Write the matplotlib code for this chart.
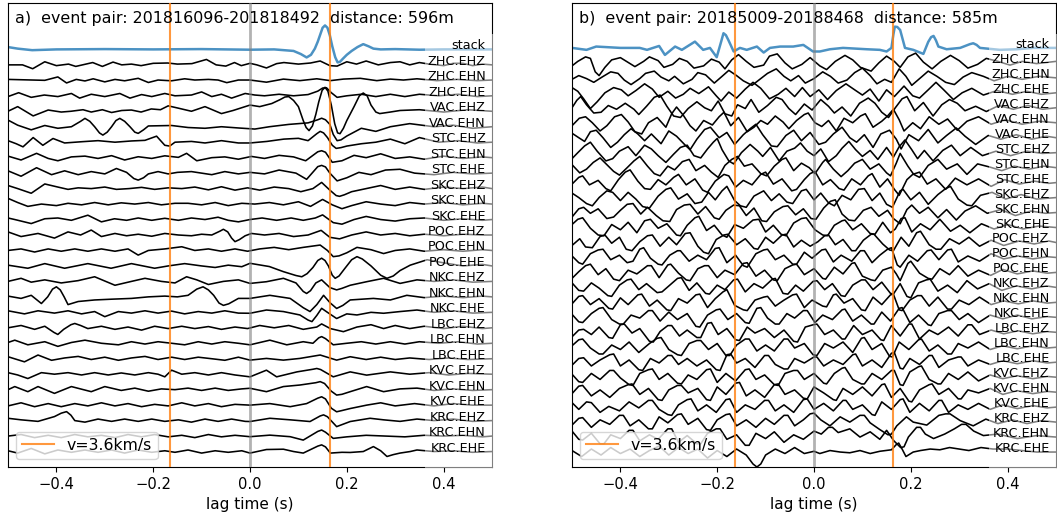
import numpy as np
import matplotlib.pyplot as plt
import matplotlib.transforms as mtransforms
from matplotlib.patches import Rectangle

plt.rcParams['font.size'] = 10.6

# station / component labels, top to bottom
labels_a = ['stack', 'ZHC.EHZ', 'ZHC.EHN', 'ZHC.EHE', 'VAC.EHZ', 'VAC.EHN',
            'STC.EHZ', 'STC.EHN', 'STC.EHE', 'SKC.EHZ', 'SKC.EHN', 'SKC.EHE',
            'POC.EHZ', 'POC.EHN', 'POC.EHE', 'NKC.EHZ', 'NKC.EHN', 'NKC.EHE',
            'LBC.EHZ', 'LBC.EHN', 'LBC.EHE', 'KVC.EHZ', 'KVC.EHN', 'KVC.EHE',
            'KRC.EHZ', 'KRC.EHN', 'KRC.EHE']
labels_b = ['stack', 'ZHC.EHZ', 'ZHC.EHN', 'ZHC.EHE', 'VAC.EHZ', 'VAC.EHN', 'VAC.EHE',
            'STC.EHZ', 'STC.EHN', 'STC.EHE', 'SKC.EHZ', 'SKC.EHN', 'SKC.EHE',
            'POC.EHZ', 'POC.EHN', 'POC.EHE', 'NKC.EHZ', 'NKC.EHN', 'NKC.EHE',
            'LBC.EHZ', 'LBC.EHN', 'LBC.EHE', 'KVC.EHZ', 'KVC.EHN', 'KVC.EHE',
            'KRC.EHZ', 'KRC.EHN', 'KRC.EHE']

title_a = 'a)  event pair: 201816096-201818492  distance: 596m'
title_b = 'b)  event pair: 20185009-20188468  distance: 585m'
dist_a = 596   # m
dist_b = 585   # m
vel = 3.6      # km/s

# traces: (lag time in ms, amplitude in 1/100 trace spacing)
traces_a = [
    [(-500,15),(-480,5),(-450,-5),(-400,0),(-300,2),(-200,0),(-100,2),(0,-2),(50,0),(90,-10),(105,-30),(117,-52),(126,-35),(134,5),(140,50),(145,95),(150,140),(155,155),(160,140),(165,90),(170,20),(176,-50),(181,-84),(186,-80),(192,-60),(200,-35),(210,-10),(222,15),(234,34),(245,20),(255,5),(270,0),(300,2),(350,-2),(400,0),(500,0)],
    [(-500,0),(-470,0),(-449,-25),(-424,20),(-400,-5),(-375,5),(-360,-10),(-325,15),(-305,-10),(-283,18),(-265,0),(-245,5),(-225,-5),(-200,10),(-170,12),(-150,5),(-120,8),(-90,35),(-70,0),(-50,-8),(-32,15),(-18,-5),(0,10),(14,0),(34,-20),(55,8),(70,15),(100,5),(125,12),(145,25),(165,-5),(180,-8),(200,20),(220,5),(240,25),(265,0),(290,15),(310,20),(330,0),(350,15),(370,5),(400,-5),(420,10),(440,10),(460,-5),(480,5),(500,0)],
    [(-500,6),(-424,0),(-397,22),(-379,-17),(-359,6),(-341,-4),(-324,10),(-300,-10),(-279,6),(-259,-3),(-231,13),(-210,-14),(-190,2),(-162,-3),(-135,10),(-114,2),(-86,6),(-66,2),(-48,-15),(-24,2),(0,2),(34,-12),(69,8),(103,-2),(138,10),(166,-2),(193,8),(228,13),(262,-2),(290,8),(317,2),(345,10),(386,-2),(428,6),(469,-2),(500,2)],
    [(-500,-5),(-478,20),(-452,-10),(-425,5),(-397,-5),(-369,15),(-352,-15),(-328,10),(-300,-5),(-269,15),(-248,-15),(-224,8),(-203,-5),(-176,15),(-155,0),(-121,5),(-100,25),(-79,-5),(-59,10),(-38,-15),(-10,15),(10,5),(30,0),(60,10),(90,0),(120,8),(140,30),(150,50),(158,52),(168,20),(180,-10),(200,0),(230,10),(260,-5),(290,10),(320,-5),(350,10),(390,0),(430,10),(470,-5),(500,0)],
    [(-500,0),(-480,30),(-448,-30),(-417,8),(-390,-5),(-370,0),(-345,10),(-328,-5),(-305,10),(-286,-8),(-265,5),(-245,8),(-225,-5),(-204,15),(-185,10),(-169,35),(-148,20),(-121,0),(-93,30),(-59,-15),(-35,5),(-15,25),(0,40),(20,30),(45,50),(62,75),(72,92),(80,95),(90,70),(100,30),(110,-60),(116,-105),(122,-125),(129,-95),(136,-20),(142,60),(149,135),(155,155),(161,130),(168,40),(175,-80),(181,-140),(186,-145),(193,-110),(200,-60),(215,30),(226,100),(234,118),(242,100),(250,40),(260,-5),(268,-15),(290,-5),(310,5),(350,10),(400,-5),(450,10),(500,0)],
    [(-500,43),(-480,10),(-452,-20),(-424,8),(-397,-10),(-369,0),(-350,35),(-341,54),(-331,35),(-321,0),(-311,-40),(-304,-54),(-295,-35),(-286,0),(-277,40),(-269,54),(-259,35),(-248,0),(-238,-35),(-231,-43),(-220,-20),(-210,5),(-162,8),(-128,-5),(-93,-10),(-59,0),(-24,-8),(10,-15),(40,0),(80,15),(120,25),(140,45),(148,55),(156,45),(165,15),(172,-50),(180,-90),(188,-85),(200,-60),(230,-10),(260,-30),(290,0),(330,20),(380,0),(420,10),(460,-10),(500,0)],
    [(-500,10),(-483,-10),(-469,-30),(-448,30),(-428,-20),(-407,24),(-383,-5),(-348,3),(-314,10),(-279,0),(-245,8),(-217,12),(-193,39),(-176,-20),(-166,-25),(-155,0),(-121,5),(-93,-5),(-59,10),(-24,-5),(0,-5),(35,5),(70,20),(100,25),(120,10),(138,55),(145,70),(152,60),(160,30),(170,-20),(178,-40),(188,-35),(200,-25),(230,-10),(260,0),(290,20),(320,-10),(350,30),(390,0),(430,10),(470,-5),(500,0)],
    [(-500,10),(-473,-15),(-441,28),(-417,-5),(-397,-20),(-369,5),(-341,10),(-314,-5),(-286,13),(-259,-15),(-231,6),(-203,-5),(-176,12),(-148,2),(-131,28),(-110,-20),(-79,0),(-52,5),(-24,-10),(3,8),(30,-5),(60,15),(90,5),(115,-20),(140,38),(148,45),(156,35),(170,-30),(190,-20),(215,15),(240,0),(270,25),(300,-5),(330,5),(360,-10),(400,10),(440,-5),(480,5),(500,0)],
    [(-500,15),(-473,-20),(-441,35),(-410,-10),(-383,15),(-355,-10),(-328,10),(-300,-5),(-276,30),(-255,5),(-240,-35),(-231,-45),(-220,-30),(-210,-5),(-190,10),(-169,-5),(-150,5),(-121,10),(-100,0),(-79,-10),(-52,10),(-24,-5),(0,5),(30,-5),(60,20),(95,0),(117,-40),(140,42),(148,50),(156,40),(165,0),(180,-50),(200,-30),(225,5),(250,-10),(280,20),(310,25),(340,0),(380,-10),(420,5),(460,-5),(500,0)],
    [(-500,20),(-480,0),(-452,-30),(-424,30),(-397,10),(-376,-5),(-355,5),(-328,0),(-300,10),(-276,-5),(-250,0),(-224,8),(-197,-5),(-169,5),(-141,0),(-114,10),(-86,-8),(-59,12),(-31,-10),(-5,5),(20,-10),(50,10),(80,0),(105,-20),(130,0),(148,40),(165,-10),(178,-45),(185,-50),(195,-40),(210,-20),(240,0),(270,20),(300,-5),(330,10),(360,-5),(400,10),(440,0),(480,10),(500,0)],
    [(-500,37),(-480,10),(-459,-15),(-431,0),(-400,-10),(-376,5),(-348,-5),(-321,10),(-293,-5),(-266,8),(-238,0),(-210,10),(-183,-5),(-155,5),(-128,5),(-100,-5),(-72,10),(-45,-10),(-17,5),(10,0),(40,10),(69,-5),(100,15),(125,-15),(150,30),(170,-5),(190,-30),(210,-10),(240,15),(270,0),(300,-10),(330,10),(360,0),(400,10),(440,-5),(480,5),(500,0)],
    [(-500,10),(-486,0),(-452,-26),(-424,5),(-397,10),(-369,-5),(-335,28),(-307,-15),(-280,5),(-255,-5),(-231,10),(-203,-5),(-176,8),(-148,-5),(-121,10),(-93,0),(-66,15),(-45,-5),(-24,-15),(0,0),(25,10),(55,-5),(85,10),(110,-5),(135,10),(150,30),(172,-20),(190,-30),(215,0),(240,20),(270,0),(300,-10),(330,5),(360,10),(400,-5),(440,5),(480,-5),(500,0)],
    [(-500,20),(-473,-10),(-438,10),(-404,-20),(-376,20),(-350,0),(-328,32),(-307,-10),(-279,10),(-255,-5),(-231,5),(-203,-8),(-176,10),(-148,0),(-121,-5),(-100,5),(-79,0),(-62,25),(-55,37),(-46,20),(-38,-20),(-31,-43),(-22,-30),(-10,-5),(3,10),(30,0),(60,10),(90,-10),(120,0),(147,30),(165,-15),(185,-25),(210,0),(240,20),(270,0),(300,10),(330,-5),(360,5),(400,-5),(440,5),(480,0),(500,0)],
    [(-500,0),(-473,10),(-445,-10),(-417,10),(-390,-5),(-362,10),(-335,-5),(-307,10),(-279,-5),(-252,10),(-231,-30),(-210,0),(-176,10),(-141,24),(-114,0),(-86,10),(-59,-5),(-31,10),(-5,-5),(20,10),(50,20),(80,5),(110,20),(145,35),(160,0),(172,-40),(184,-35),(200,-15),(221,20),(250,5),(276,-20),(300,0),(330,10),(360,-5),(400,5),(440,-5),(480,5),(500,0)],
    [(-500,5),(-459,-15),(-424,15),(-383,-15),(-335,15),(-287,-15),(-245,15),(-197,-15),(-169,0),(-135,15),(-100,0),(-72,-10),(-45,5),(-17,-5),(0,17),(40,-4),(69,-37),(95,-62),(107,-70),(118,-50),(130,-10),(140,35),(148,50),(155,35),(162,0),(170,-60),(176,-80),(184,-65),(195,-20),(210,40),(221,60),(232,45),(250,0),(270,-60),(283,-80),(296,-65),(310,-30),(331,5),(366,40),(400,20),(440,0),(480,10),(500,0)],
    [(-500,0),(-473,20),(-452,-5),(-424,10),(-390,-10),(-355,5),(-321,30),(-279,-25),(-245,0),(-217,20),(-183,0),(-155,-10),(-131,30),(-110,10),(-86,-20),(-55,0),(-24,10),(0,-13),(34,-2),(69,20),(95,-10),(110,-65),(117,-78),(125,-60),(136,-10),(148,10),(165,-40),(179,-55),(190,-45),(207,-25),(241,-2),(276,20),(310,-13),(345,10),(380,0),(420,10),(460,-5),(500,0)],
    [(-500,5),(-473,-10),(-452,10),(-431,-43),(-418,0),(-408,50),(-400,65),(-392,45),(-384,0),(-376,-50),(-355,-30),(-321,-20),(-286,-15),(-245,-10),(-210,0),(-176,5),(-150,0),(-128,10),(-110,50),(-97,65),(-86,45),(-75,10),(-64,-40),(-55,-55),(-44,-45),(-24,-10),(0,-10),(41,10),(83,-10),(110,-70),(124,-95),(138,-50),(152,10),(166,-40),(179,-75),(192,-55),(207,-20),(255,-10),(290,-20),(324,10),(360,-5),(400,5),(440,-5),(480,5),(500,0)],
    [(-500,10),(-466,-10),(-438,10),(-404,-5),(-376,10),(-348,-10),(-321,5),(-300,-28),(-272,5),(-245,-5),(-217,10),(-190,-5),(-162,8),(-135,-10),(-107,5),(-79,-5),(-52,10),(-24,-5),(0,-6),(34,15),(69,5),(103,-17),(120,-50),(128,-60),(138,-20),(148,26),(160,0),(179,-40),(200,-10),(221,-17),(250,0),(276,-6),(310,5),(345,15),(380,0),(420,10),(460,-5),(500,0)],
    [(-500,0),(-473,15),(-445,-10),(-424,10),(-405,-30),(-397,-43),(-385,-10),(-370,20),(-362,28),(-350,15),(-335,-5),(-307,10),(-279,-10),(-252,5),(-224,-15),(-197,10),(-169,-5),(-141,10),(-114,-5),(-86,8),(-59,-10),(-31,5),(-5,-5),(20,15),(50,0),(80,15),(110,-10),(138,5),(148,25),(166,-5),(193,-25),(221,5),(250,20),(276,-5),(300,15),(330,-5),(360,10),(400,-5),(440,10),(480,-5),(500,0)],
    [(-500,5),(-486,20),(-459,-10),(-424,10),(-397,-20),(-369,5),(-341,20),(-307,0),(-272,-10),(-245,10),(-217,-5),(-190,10),(-162,0),(-135,-10),(-107,10),(-79,-5),(-52,10),(-24,0),(0,-10),(41,20),(76,-10),(110,10),(130,0),(142,35),(148,43),(156,30),(172,-10),(200,0),(230,10),(260,-5),(290,10),(320,-5),(350,10),(390,0),(430,10),(470,-5),(500,0)],
    [(-500,13),(-466,-20),(-438,24),(-410,-10),(-383,5),(-355,15),(-328,-5),(-300,10),(-272,-10),(-245,5),(-217,15),(-190,-5),(-162,10),(-135,-5),(-107,10),(-79,0),(-52,-10),(-24,10),(0,-9),(34,2),(69,-9),(103,2),(145,24),(179,-9),(207,13),(240,-5),(270,10),(300,-5),(330,5),(370,-5),(410,5),(450,-5),(500,0)],
    [(-500,10),(-480,-5),(-459,-28),(-431,10),(-404,0),(-376,10),(-348,-5),(-321,10),(-293,-5),(-266,8),(-238,-5),(-210,10),(-190,0),(-176,-17),(-162,26),(-141,0),(-114,10),(-86,-5),(-59,10),(-31,-5),(0,-17),(34,26),(55,-17),(97,15),(130,32),(138,37),(146,30),(172,-17),(207,15),(241,-6),(290,15),(330,0),(370,10),(410,-5),(450,5),(500,0)],
    [(-500,0),(-486,20),(-459,-13),(-438,20),(-404,-24),(-369,20),(-328,-13),(-300,20),(-266,-5),(-238,10),(-210,-10),(-183,5),(-155,0),(-128,10),(-100,-5),(-72,10),(-45,-5),(-17,5),(0,9),(34,-13),(69,20),(103,30),(136,45),(145,52),(154,40),(168,-10),(179,-35),(190,-30),(207,-13),(241,20),(276,-13),(310,5),(345,10),(380,-5),(420,5),(460,-5),(500,0)],
    [(-500,-5),(-473,15),(-445,-10),(-417,10),(-390,-10),(-362,10),(-335,-5),(-307,15),(-279,-5),(-252,10),(-224,-10),(-197,5),(-169,-5),(-141,15),(-114,-5),(-86,10),(-59,-10),(-31,5),(0,0),(41,10),(83,-10),(117,10),(140,45),(148,54),(156,40),(168,-20),(179,-43),(190,-35),(207,-22),(241,0),(270,15),(300,-5),(340,10),(380,-5),(420,10),(460,0),(500,0)],
    [(-500,15),(-473,5),(-438,-5),(-404,26),(-390,48),(-379,58),(-370,35),(-362,0),(-341,-10),(-314,10),(-286,-5),(-259,10),(-231,-5),(-203,10),(-176,-5),(-148,5),(-121,-10),(-93,10),(-66,-5),(-38,10),(-10,-5),(0,-6),(41,15),(83,5),(124,-6),(145,30),(152,37),(160,25),(179,-39),(207,-6),(248,15),(276,5),(310,-5),(345,10),(380,0),(420,10),(460,-5),(500,0)],
    [(-500,0),(-473,10),(-445,-10),(-417,5),(-390,-10),(-362,10),(-335,-5),(-307,5),(-279,-10),(-252,10),(-224,-5),(-197,10),(-169,-5),(-141,5),(-114,-10),(-86,10),(-59,-5),(-31,5),(0,-4),(41,6),(83,-4),(110,-26),(140,30),(148,39),(156,25),(172,-15),(200,-5),(240,5),(280,0),(320,-5),(360,5),(400,0),(440,5),(480,-5),(500,0)],
    [(-500,5),(-480,-10),(-452,20),(-424,-15),(-397,10),(-369,-5),(-341,10),(-314,-5),(-286,10),(-259,-10),(-231,10),(-203,-5),(-176,5),(-155,-5),(-128,10),(-100,-10),(-72,5),(-45,-5),(-17,5),(0,-10),(34,13),(69,15),(90,0),(110,-10),(140,35),(148,43),(156,30),(166,-10),(190,-5),(207,-6),(234,0),(255,32),(270,5),(283,-32),(296,-20),(310,-10),(331,0),(345,10),(380,0),(420,5),(460,-5),(500,0)],
]

traces_b = [
    [(-500,0),(-470,-13),(-450,9),(-400,0),(-360,0),(-345,-13),(-320,13),(-308,-47),(-287,9),(-273,-13),(-246,42),(-229,-13),(-215,0),(-201,-62),(-192,40),(-187,98),(-182,85),(-177,53),(-166,-24),(-153,0),(-139,-13),(-118,9),(-104,-31),(-91,0),(-70,9),(-43,9),(-22,20),(-2,-24),(12,-24),(33,-9),(60,0),(109,-9),(136,-13),(150,-24),(160,0),(164,90),(167,142),(172,140),(178,120),(183,60),(188,0),(205,-13),(226,-40),(236,40),(242,72),(247,80),(252,50),(257,9),(274,-9),(302,0),(322,25),(329,31),(336,20),(343,0),(384,-13),(419,-9),(453,0),(500,0)],
    [(-500,-20),(-488,10),(-472,40),(-462,30),(-452,-60),(-444,-85),(-432,-30),(-418,20),(-400,35),(-385,5),(-370,-25),(-352,10),(-340,40),(-322,15),(-310,-30),(-292,-10),(-278,30),(-262,10),(-248,-35),(-228,-20),(-212,25),(-196,5),(-184,-40),(-170,20),(-156,55),(-140,10),(-124,-30),(-104,-15),(-92,45),(-76,60),(-60,0),(-45,-40),(-25,-10),(-8,35),(12,-20),(26,-45),(44,10),(64,50),(80,20),(96,-30),(118,-55),(134,0),(150,45),(166,10),(178,-30),(194,40),(210,65),(226,5),(244,-40),(262,10),(282,50),(300,15),(318,-35),(338,-10),(356,30),(380,10),(405,-15),(430,10),(460,-5),(500,10)],
    [(-500,-10),(-486,15),(-470,-5),(-455,-30),(-438,5),(-420,40),(-405,30),(-392,-15),(-378,-45),(-360,-5),(-348,30),(-330,45),(-316,5),(-300,-20),(-288,10),(-270,-40),(-252,-10),(-240,35),(-224,20),(-206,-35),(-190,10),(-176,50),(-160,15),(-146,-20),(-128,-50),(-112,-10),(-96,30),(-78,60),(-62,10),(-48,-20),(-32,15),(-18,-35),(0,-5),(18,40),(34,10),(50,-35),(68,-15),(84,35),(100,65),(116,15),(130,-40),(146,-10),(160,-30),(176,60),(190,10),(202,-50),(220,0),(236,45),(254,10),(272,-30),(290,-45),(308,5),(326,35),(350,10),(372,-20),(400,10),(430,-10),(465,10),(500,0)],
    [(-500,35),(-488,10),(-476,-40),(-462,-105),(-448,-60),(-432,0),(-414,35),(-398,20),(-384,-20),(-368,15),(-350,60),(-334,25),(-320,-30),(-302,10),(-286,-35),(-270,-10),(-256,30),(-238,-5),(-218,40),(-202,-20),(-192,-55),(-176,5),(-160,-35),(-142,25),(-126,70),(-110,30),(-92,-40),(-74,-10),(-58,30),(-40,-25),(-24,35),(-8,-25),(10,20),(28,-45),(46,15),(66,60),(84,20),(100,-15),(116,25),(134,-55),(150,20),(166,-25),(186,45),(204,-20),(218,-35),(236,20),(252,70),(268,20),(288,-45),(306,0),(326,30),(350,-15),(378,15),(410,-10),(440,10),(470,-10),(500,0)],
    [(-500,0),(-490,50),(-482,75),(-470,20),(-455,-35),(-440,-30),(-425,15),(-408,-10),(-390,30),(-372,-10),(-362,-45),(-346,10),(-330,70),(-318,85),(-304,10),(-290,-55),(-276,-65),(-260,-5),(-242,40),(-226,0),(-212,-20),(-198,45),(-184,-40),(-170,-55),(-158,20),(-142,-5),(-130,55),(-114,-30),(-96,15),(-78,70),(-66,55),(-52,-5),(-38,-45),(-20,25),(-4,-15),(14,55),(30,10),(42,-35),(58,5),(76,-55),(94,30),(112,65),(126,30),(140,-30),(154,-65),(168,0),(182,60),(192,75),(208,-20),(226,35),(246,-55),(264,20),(280,55),(296,30),(312,-20),(334,10),(356,-25),(382,15),(412,-10),(442,15),(472,-10),(500,0)],
    [(-500,-20),(-485,30),(-472,40),(-458,0),(-442,-55),(-428,-20),(-412,40),(-398,55),(-384,5),(-370,-60),(-356,-75),(-342,0),(-324,35),(-306,-30),(-294,60),(-284,105),(-270,50),(-256,-20),(-244,-55),(-228,15),(-210,-15),(-196,40),(-186,70),(-172,-20),(-156,35),(-138,-60),(-124,-30),(-110,15),(-96,-10),(-80,45),(-64,5),(-52,-40),(-36,15),(-20,55),(-12,65),(2,0),(16,-25),(30,15),(46,-55),(62,30),(80,0),(96,45),(106,60),(122,-30),(140,10),(152,45),(164,90),(176,20),(186,-55),(204,0),(220,-40),(238,40),(258,-10),(276,25),(296,-50),(316,10),(340,40),(366,-10),(395,20),(430,-10),(465,10),(500,0)],
    [(-500,30),(-486,0),(-474,-25),(-462,40),(-450,50),(-436,0),(-420,-65),(-406,-30),(-392,20),(-378,60),(-364,25),(-350,-20),(-336,25),(-316,-40),(-300,45),(-284,10),(-266,-50),(-256,-80),(-242,-10),(-226,55),(-214,70),(-196,0),(-180,35),(-164,-45),(-146,20),(-132,60),(-120,90),(-106,20),(-88,-55),(-76,-60),(-58,15),(-42,50),(-26,-20),(-8,35),(10,-45),(24,-30),(40,25),(58,70),(74,0),(88,-30),(104,20),(122,-65),(138,25),(156,50),(170,-10),(180,-75),(196,20),(216,-20),(236,55),(256,-35),(274,15),(294,65),(312,10),(334,-45),(360,15),(386,-10),(418,20),(450,-10),(480,10),(500,0)],
    [(-500,-40),(-488,0),(-474,45),(-462,70),(-448,10),(-430,-55),(-416,-40),(-402,10),(-384,40),(-368,-20),(-350,50),(-336,25),(-322,-20),(-306,-65),(-290,-10),(-276,35),(-262,50),(-248,-20),(-234,-35),(-220,25),(-208,70),(-200,95),(-190,20),(-176,-55),(-166,-75),(-150,0),(-132,55),(-116,10),(-106,-25),(-90,35),(-72,-55),(-56,10),(-40,30),(-28,65),(-14,10),(0,-20),(14,25),(30,-60),(46,-20),(58,30),(72,75),(86,20),(100,-25),(116,15),(132,-45),(150,35),(164,-30),(176,40),(188,85),(202,20),(214,-40),(228,15),(246,-55),(266,15),(284,50),(302,-20),(324,35),(348,-20),(376,10),(406,-20),(440,10),(472,-5),(500,0)],
    [(-500,20),(-484,-35),(-470,-10),(-456,35),(-442,65),(-428,20),(-414,-25),(-402,-50),(-386,0),(-372,45),(-360,75),(-344,10),(-330,-40),(-318,-55),(-302,10),(-288,-15),(-272,40),(-258,55),(-244,-20),(-226,15),(-212,-30),(-198,-65),(-184,15),(-170,55),(-158,75),(-144,10),(-128,25),(-110,-40),(-98,-55),(-82,10),(-66,55),(-58,65),(-42,-20),(-26,30),(-10,0),(2,-40),(18,35),(24,55),(40,-10),(56,-60),(70,-20),(84,30),(100,55),(116,-10),(134,25),(150,-35),(158,-55),(170,30),(178,95),(194,10),(206,-45),(218,-65),(236,15),(256,55),(274,-10),(296,25),(316,-45),(338,25),(362,5),(388,-20),(414,10),(445,-10),(475,10),(500,0)],
    [(-500,-10),(-486,35),(-478,45),(-464,-15),(-446,15),(-430,-40),(-420,-55),(-404,20),(-390,70),(-380,85),(-364,10),(-350,-40),(-338,-45),(-322,20),(-306,-15),(-290,35),(-280,55),(-264,-15),(-246,25),(-230,-50),(-220,-65),(-204,10),(-186,55),(-176,45),(-162,-30),(-146,15),(-128,-15),(-110,55),(-100,70),(-84,-10),(-66,25),(-46,-55),(-36,-45),(-20,20),(-8,60),(2,75),(18,-15),(34,20),(52,-40),(62,-50),(78,25),(96,-15),(112,45),(120,60),(136,-30),(152,25),(166,-45),(176,-85),(192,20),(204,55),(218,70),(234,-10),(252,25),(272,-45),(292,30),(316,-15),(340,25),(366,-25),(394,20),(424,-10),(455,10),(485,-5),(500,0)],
    [(-500,30),(-486,0),(-470,-40),(-458,-55),(-444,0),(-428,45),(-416,35),(-400,-20),(-384,35),(-368,-10),(-354,-60),(-340,-70),(-322,10),(-306,55),(-296,65),(-280,-10),(-262,25),(-246,-40),(-232,-30),(-218,35),(-204,-15),(-190,45),(-180,75),(-164,-20),(-152,-55),(-140,-65),(-124,10),(-104,45),(-88,-20),(-72,25),(-56,-30),(-44,-40),(-26,45),(-16,55),(0,-15),(14,30),(30,-35),(42,-55),(58,15),(76,-15),(92,55),(104,60),(120,-20),(136,30),(150,-45),(162,-65),(178,45),(184,55),(200,-15),(218,35),(236,-45),(256,20),(272,60),(282,75),(298,-10),(316,-50),(326,-55),(344,15),(368,35),(396,-10),(428,20),(460,-10),(500,0)],
    [(-500,-30),(-486,25),(-476,35),(-462,-5),(-446,25),(-428,-40),(-414,-30),(-400,15),(-386,55),(-374,60),(-358,-10),(-344,35),(-326,-20),(-312,-55),(-298,-60),(-284,20),(-268,50),(-256,55),(-240,-10),(-224,40),(-206,-35),(-196,-45),(-182,15),(-166,50),(-154,45),(-140,-20),(-124,30),(-108,-55),(-98,-60),(-82,5),(-64,40),(-54,45),(-38,-15),(-22,25),(-6,-40),(4,-45),(20,30),(34,75),(44,85),(58,-10),(72,-50),(84,-55),(102,15),(118,35),(134,-25),(152,15),(164,-40),(178,-75),(192,20),(202,50),(218,-5),(236,35),(256,-35),(274,20),(294,-50),(312,10),(334,45),(358,-5),(386,20),(416,-20),(448,10),(478,-5),(500,0)],
    [(-500,20),(-488,55),(-478,65),(-462,-5),(-446,-50),(-434,-55),(-418,20),(-400,-15),(-384,35),(-366,-35),(-350,45),(-338,55),(-322,-5),(-304,25),(-284,-50),(-276,-55),(-262,15),(-246,65),(-238,75),(-222,-20),(-206,15),(-190,-50),(-180,-65),(-164,20),(-146,-5),(-126,50),(-114,55),(-100,-30),(-84,15),(-68,-45),(-58,-55),(-42,30),(-26,60),(-16,65),(2,-15),(18,-50),(28,-55),(42,15),(58,45),(64,50),(80,-15),(98,25),(116,-40),(126,-45),(142,35),(158,-35),(168,-10),(180,60),(188,65),(202,-30),(220,25),(240,-15),(260,55),(282,-25),(302,15),(322,-35),(346,25),(372,-10),(400,20),(432,-10),(465,10),(500,0)],
    [(-500,-20),(-484,25),(-472,-30),(-458,-35),(-442,40),(-432,50),(-418,-5),(-402,35),(-388,-45),(-376,-55),(-360,5),(-344,45),(-334,50),(-318,-25),(-300,35),(-284,-15),(-266,60),(-256,65),(-240,-25),(-228,-65),(-218,-75),(-202,20),(-186,50),(-178,55),(-160,-15),(-142,25),(-124,-40),(-116,-45),(-100,35),(-84,-5),(-66,50),(-58,55),(-42,-30),(-26,15),(-8,-25),(8,5),(22,45),(30,50),(44,-15),(60,20),(78,-55),(86,-55),(102,15),(118,55),(124,55),(142,-10),(156,-50),(164,-55),(180,35),(196,-25),(212,65),(220,75),(238,-15),(252,-45),(262,-45),(280,25),(300,-10),(320,35),(342,-25),(366,15),(392,-20),(424,10),(455,-10),(485,10),(500,0)],
    [(-500,10),(-486,-35),(-478,-45),(-462,25),(-446,50),(-436,55),(-420,-15),(-402,15),(-386,-35),(-374,-25),(-360,55),(-352,65),(-338,-5),(-322,-45),(-314,-50),(-298,15),(-282,45),(-276,45),(-258,-25),(-240,15),(-222,-15),(-204,60),(-196,65),(-180,-35),(-162,15),(-146,-55),(-138,-65),(-120,25),(-104,50),(-96,55),(-80,-15),(-62,15),(-44,-45),(-36,-45),(-20,35),(-4,-5),(16,50),(24,55),(40,-30),(56,15),(78,-25),(96,45),(104,45),(120,-35),(136,15),(152,55),(160,65),(172,-50),(178,-65),(196,15),(214,-25),(234,45),(242,50),(258,-15),(276,50),(284,55),(298,-30),(318,10),(342,-25),(366,25),(392,-10),(422,10),(452,-10),(482,5),(500,0)],
    [(-500,-40),(-486,5),(-472,45),(-462,55),(-446,-15),(-430,25),(-414,-45),(-402,-55),(-384,15),(-366,-10),(-344,45),(-336,45),(-320,-35),(-302,50),(-296,55),(-280,-5),(-264,-50),(-256,-55),(-240,25),(-226,45),(-218,45),(-200,-35),(-184,15),(-164,-15),(-146,60),(-138,65),(-120,-25),(-102,15),(-84,-50),(-76,-55),(-60,25),(-44,50),(-36,55),(-20,-15),(0,25),(18,-40),(24,-45),(42,35),(60,-10),(78,60),(84,65),(100,-25),(118,-50),(126,-55),(142,15),(160,35),(170,-10),(178,-55),(194,60),(200,75),(218,-5),(236,-40),(244,-45),(260,25),(280,-15),(298,45),(318,-25),(340,15),(365,-20),(390,20),(420,-10),(452,10),(482,-5),(500,0)],
    [(-500,30),(-486,-20),(-476,-25),(-460,30),(-444,-5),(-426,-55),(-418,-60),(-402,15),(-386,50),(-378,55),(-362,-15),(-346,25),(-324,-35),(-314,-30),(-298,15),(-282,60),(-274,65),(-258,-20),(-242,30),(-224,-40),(-216,-45),(-200,15),(-184,-15),(-166,50),(-158,55),(-142,-30),(-124,25),(-106,-5),(-86,55),(-80,60),(-64,-40),(-54,-45),(-38,15),(-22,-25),(-2,40),(6,45),(22,-15),(38,25),(56,-55),(64,-60),(80,15),(98,50),(106,50),(122,-15),(140,35),(158,-40),(164,-45),(178,25),(192,-60),(200,-70),(216,30),(232,50),(240,55),(256,-25),(276,15),(296,-35),(316,45),(338,-10),(362,25),(388,-20),(418,10),(450,-10),(480,10),(500,0)],
    [(-500,-10),(-486,40),(-478,45),(-462,-15),(-444,25),(-424,-40),(-416,-45),(-400,30),(-384,-15),(-364,50),(-356,55),(-340,-25),(-324,15),(-304,-50),(-296,-55),(-280,25),(-262,-5),(-244,50),(-236,55),(-220,-35),(-204,25),(-188,70),(-180,85),(-164,-20),(-146,-50),(-138,-55),(-122,15),(-104,35),(-96,40),(-80,-25),(-62,15),(-44,50),(-36,55),(-20,-35),(-4,15),(18,-25),(26,-30),(40,50),(46,55),(62,-5),(80,25),(98,-50),(106,-55),(122,35),(140,-15),(158,50),(164,55),(176,-50),(182,-55),(198,15),(214,45),(222,45),(238,-25),(256,35),(276,-45),(284,-45),(300,15),(320,-15),(342,35),(366,-15),(392,10),(422,-10),(452,10),(482,-5),(500,0)],
    [(-500,20),(-486,-30),(-478,-35),(-460,25),(-444,60),(-436,65),(-418,-15),(-402,-45),(-394,-45),(-378,15),(-360,-5),(-342,45),(-334,45),(-318,-25),(-300,35),(-282,-15),(-262,25),(-244,-60),(-236,-65),(-220,15),(-202,50),(-194,55),(-178,-15),(-160,25),(-142,-35),(-134,-40),(-118,60),(-110,65),(-96,-5),(-80,-45),(-72,-45),(-56,25),(-40,-5),(-22,45),(-14,45),(2,-35),(18,15),(38,-15),(58,50),(64,55),(80,-25),(98,15),(118,-45),(124,-45),(140,35),(158,-25),(176,60),(182,65),(198,-35),(216,15),(236,-50),(242,-55),(258,25),(276,45),(284,45),(300,-15),(318,25),(340,-35),(364,15),(390,-10),(420,15),(450,-10),(482,5),(500,0)],
    [(-500,-30),(-486,15),(-476,20),(-460,-15),(-444,35),(-424,-35),(-416,-40),(-400,50),(-392,55),(-376,-5),(-360,25),(-340,-60),(-332,-65),(-318,5),(-302,45),(-294,45),(-278,-25),(-262,15),(-242,-35),(-234,-35),(-220,60),(-212,65),(-198,-15),(-180,25),(-162,-50),(-154,-55),(-138,35),(-122,-5),(-102,25),(-82,-35),(-62,15),(-42,-60),(-34,-65),(-18,35),(-2,50),(6,55),(22,-15),(40,15),(58,-45),(64,-45),(82,45),(100,-15),(120,15),(138,-50),(144,-55),(160,45),(178,-25),(196,55),(202,55),(218,-45),(238,15),(256,-15),(278,35),(298,-25),(318,50),(326,50),(342,-15),(366,15),(392,-10),(422,10),(452,-10),(482,5),(500,0)],
    [(-500,10),(-486,50),(-478,55),(-462,-5),(-444,-45),(-436,-45),(-418,15),(-400,-15),(-382,35),(-362,-35),(-340,25),(-324,60),(-316,65),(-300,-15),(-282,-50),(-274,-55),(-258,25),(-242,45),(-234,45),(-218,-15),(-200,25),(-182,-55),(-174,-55),(-160,15),(-142,55),(-134,55),(-118,-25),(-100,15),(-82,-25),(-62,55),(-54,55),(-40,-5),(-20,25),(-2,-50),(6,-55),(22,25),(40,-5),(60,35),(80,-35),(98,60),(104,65),(120,-15),(140,25),(156,-60),(162,-65),(176,35),(196,-15),(216,50),(222,55),(238,-25),(256,15),(276,-45),(284,-45),(298,25),(318,-5),(340,35),(364,-15),(390,10),(420,-10),(452,10),(482,-5),(500,0)],
    [(-500,-20),(-486,25),(-476,30),(-460,-25),(-442,15),(-422,50),(-414,55),(-400,-25),(-382,15),(-362,-50),(-354,-55),(-338,25),(-320,-5),(-302,45),(-294,45),(-280,-15),(-262,25),(-242,-25),(-222,15),(-202,-50),(-194,-55),(-180,50),(-172,55),(-160,-5),(-142,25),(-122,-35),(-102,45),(-94,45),(-80,-15),(-62,-45),(-54,-45),(-40,25),(-20,-5),(0,35),(6,35),(20,-25),(40,15),(60,-15),(80,50),(86,55),(100,-25),(120,15),(140,-35),(160,60),(166,65),(178,-40),(184,-45),(198,25),(218,-15),(238,45),(244,45),(258,-35),(278,15),(298,35),(304,35),(318,-25),(340,15),(364,-15),(390,10),(420,-10),(452,10),(482,-5),(500,0)],
    [(-500,20),(-486,-30),(-478,-35),(-460,25),(-442,-15),(-422,45),(-414,45),(-400,-5),(-382,-50),(-374,-55),(-360,25),(-342,50),(-334,55),(-320,-15),(-302,25),(-282,-40),(-274,-45),(-260,15),(-242,-15),(-222,50),(-214,55),(-200,-35),(-182,25),(-162,-25),(-142,50),(-134,55),(-120,-15),(-102,15),(-82,-50),(-74,-55),(-60,25),(-42,45),(-34,45),(-20,-15),(0,25),(20,-40),(26,-45),(42,25),(58,60),(64,65),(80,-15),(98,-45),(104,-45),(120,25),(140,-15),(160,45),(166,45),(178,-50),(184,-55),(198,35),(216,70),(222,75),(238,-15),(256,-45),(262,-45),(278,25),(298,-15),(318,35),(340,-25),(364,15),(390,-10),(420,10),(452,-10),(482,5),(500,0)],
    [(-500,-10),(-486,40),(-478,45),(-460,-25),(-442,15),(-422,-35),(-402,25),(-384,50),(-376,55),(-360,-15),(-342,25),(-322,-50),(-314,-55),(-300,15),(-282,45),(-274,45),(-260,-5),(-240,25),(-222,-50),(-214,-55),(-200,35),(-182,-15),(-162,60),(-154,65),(-140,-25),(-122,15),(-102,-35),(-82,50),(-74,55),(-60,-15),(-40,15),(-22,-40),(-14,-45),(0,35),(20,-5),(40,-50),(46,-55),(60,25),(80,-15),(100,35),(120,-25),(140,50),(146,55),(160,-35),(178,25),(196,-60),(202,-65),(218,15),(238,50),(244,55),(258,-15),(278,25),(298,-45),(304,-45),(318,15),(340,-5),(364,25),(390,-15),(420,10),(452,-10),(482,5),(500,0)],
    [(-500,30),(-486,-15),(-470,35),(-460,30),(-442,-35),(-424,5),(-402,-25),(-382,35),(-362,-5),(-342,45),(-334,45),(-320,-15),(-302,-50),(-294,-55),(-280,15),(-262,50),(-254,55),(-240,-25),(-222,15),(-202,-35),(-182,50),(-174,55),(-160,-35),(-142,15),(-122,-15),(-102,45),(-94,45),(-80,-25),(-62,15),(-42,-35),(-22,50),(-14,55),(0,-15),(20,25),(40,-25),(60,45),(66,45),(80,-15),(100,15),(120,-50),(126,-55),(140,35),(160,-15),(178,50),(184,55),(198,-35),(218,25),(238,-25),(258,45),(264,45),(278,-35),(298,15),(318,-15),(340,25),(364,-15),(390,15),(420,-10),(452,10),(482,-5),(500,0)],
    [(-500,-20),(-486,25),(-478,30),(-460,-35),(-442,15),(-422,-15),(-402,45),(-394,45),(-380,-25),(-362,15),(-342,-45),(-334,-45),(-320,35),(-302,-5),(-282,50),(-274,55),(-260,-15),(-240,25),(-222,-50),(-214,-55),(-200,15),(-182,50),(-174,55),(-160,-25),(-140,15),(-120,-35),(-100,25),(-82,-15),(-62,45),(-54,45),(-40,-25),(-22,15),(-8,55),(0,60),(14,15),(33,-25),(54,35),(74,0),(95,45),(104,45),(116,-5),(136,-50),(153,-85),(160,-80),(171,-25),(191,35),(205,0),(233,-20),(258,45),(272,55),(281,55),(302,10),(329,-25),(355,20),(380,-10),(410,15),(440,-10),(470,10),(500,0)],
    [(-500,40),(-486,-15),(-478,-20),(-460,25),(-442,-45),(-434,-45),(-420,15),(-400,-10),(-382,45),(-374,45),(-360,-25),(-340,15),(-322,-15),(-302,55),(-294,55),(-280,-35),(-262,10),(-242,-45),(-234,-45),(-220,25),(-202,55),(-194,55),(-180,-15),(-160,15),(-142,-55),(-134,-55),(-120,25),(-100,-10),(-82,35),(-62,-35),(-42,15),(-22,-15),(0,40),(15,20),(30,65),(38,65),(50,30),(74,55),(95,0),(116,35),(136,-15),(150,45),(165,-25),(179,-70),(186,-65),(195,0),(212,65),(220,65),(230,20),(247,-10),(270,20),(290,55),(305,85),(314,85),(330,40),(350,10),(380,20),(420,-10),(460,10),(500,0)],
    [(-500,10),(-480,-30),(-460,20),(-440,-20),(-420,30),(-400,-10),(-380,20),(-360,-30),(-340,10),(-320,40),(-300,-20),(-280,30),(-260,-10),(-240,20),(-220,-40),(-200,10),(-180,-30),(-160,20),(-140,-20),(-126,-80),(-118,-100),(-110,-80),(-100,-20),(-80,20),(-60,-10),(-40,30),(-20,-10),(0,5),(12,-10),(33,10),(54,0),(74,-5),(95,10),(116,-10),(136,5),(160,15),(170,50),(175,60),(182,20),(190,-30),(205,0),(220,10),(240,20),(260,15),(280,30),(300,20),(320,10),(345,30),(370,20),(400,20),(430,10),(460,0),(500,0)],
]


def draw_panel(ax, labels, traces, title, dist):
    n = len(labels)
    for k, tr in enumerate(traces):
        t = np.array([p[0] for p in tr]) / 1000.0
        amp = np.array([p[1] for p in tr]) / 100.0
        if k == 0:
            ax.plot(t, amp - k, color='C0', alpha=0.8, lw=1.8, zorder=2,
                    solid_joinstyle='round')
        else:
            ax.plot(t, amp - k, color='k', lw=1.15, zorder=2,
                    solid_joinstyle='round')

    # expected lag for the given inter-event distance
    lag = dist / 1000.0 / vel
    ax.axvline(-lag, color='C1', alpha=0.8, lw=1.5, zorder=3, label='v=3.6km/s')
    ax.axvline(lag, color='C1', alpha=0.8, lw=1.5, zorder=3)
    ax.axvline(0, color='0.5', alpha=0.6, lw=2, zorder=3)

    # light box behind the trace names
    trans = mtransforms.blended_transform_factory(ax.transData, ax.transAxes)
    ax.add_patch(Rectangle((0.362, -0.003), 0.145, 0.936, transform=trans,
                           facecolor='white', alpha=0.5, edgecolor='none',
                           zorder=4, clip_on=False))
    for k, lab in enumerate(labels):
        ax.text(0.487, -k, lab, ha='right', va='baseline', fontsize=9.2, zorder=5)

    ax.text(0.014, 0.983, title, transform=ax.transAxes, ha='left', va='top', fontsize=11.4)
    ax.set_xlim(-0.5, 0.5)
    ax.set_ylim(-n, 3)
    ax.set_yticks([])
    ax.set_xticks([-0.4, -0.2, 0.0, 0.2, 0.4])
    ax.set_xlabel('lag time (s)', fontsize=11)
    ax.legend(loc='lower left', fontsize=11.3)


fig = plt.figure(figsize=(10.57, 5.17), dpi=100)
ax1 = fig.add_axes([8 / 1057, 50 / 517, 484 / 1057, 464 / 517])
ax2 = fig.add_axes([572 / 1057, 50 / 517, 484 / 1057, 464 / 517])

draw_panel(ax1, labels_a, traces_a, title_a, dist_a)
draw_panel(ax2, labels_b, traces_b, title_b, dist_b)

fig.savefig('out.png', dpi=100)
